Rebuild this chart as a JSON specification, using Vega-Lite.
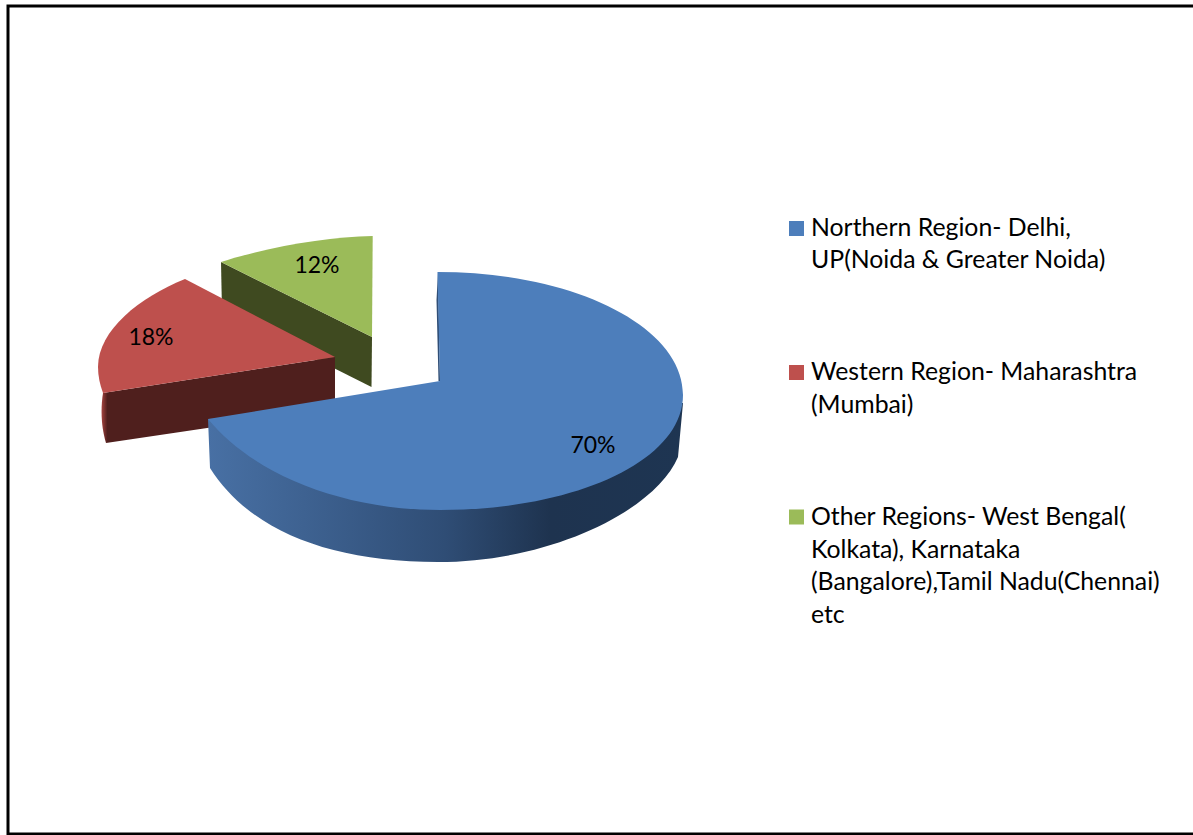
{
"$schema":"https://vega.github.io/schema/vega-lite/v6.json",
"autosize":"none",
"width":1190,"height":828,
"padding":{"left":8,"top":6,"right":-5,"bottom":1},
"background":"white",
"view":{"stroke":"black","strokeWidth":3,"fill":"white"},
"config":{"font":"Lato"},
"data":{"values":[
{"region":"Northern Region- Delhi,\nUP(Noida & Greater Noida)","share":70,"label":"70%"},
{"region":"Western Region- Maharashtra\n(Mumbai)","share":18,"label":"18%"},
{"region":"Other Regions- West Bengal(\nKolkata), Karnataka\n(Bangalore),Tamil Nadu(Chennai)\netc","share":12,"label":"12%"}
]},
"encoding":{
"x":{"field":"share","type":"quantitative","axis":null,"scale":{"domain":[12,18,70],"range":[364,327,432]}},
"y":{"field":"share","type":"quantitative","axis":null,"scale":{"domain":[12,18,70],"range":[331,351,375]}},
"size":{"value":4}
},
"layer":[
{"transform":[{"filter":"datum.share==12"}],
 "mark":{"type":"point","filled":true,"opacity":1,"strokeWidth":0,"fill":"#3f4a20","shape":"M-151,-75 L0,0 L-0.5,50 L-150,-25 Z"}},
{"transform":[{"filter":"datum.share==12"}],
 "mark":{"type":"point","filled":true,"opacity":1,"strokeWidth":0,"shape":"M0,0 L0.7,-101 C-45,-100 -105,-90 -151,-75 Z"},
 "encoding":{"color":{"field":"region","type":"nominal","sort":null,"scale":{"domain":["Northern Region- Delhi,\nUP(Noida & Greater Noida)","Western Region- Maharashtra\n(Mumbai)","Other Regions- West Bengal(\nKolkata), Karnataka\n(Bangalore),Tamil Nadu(Chennai)\netc"],"range":["#4d7ebb","#be504d","#9bbb59"]},"legend":null}}},
{"transform":[{"filter":"datum.share==18"}],
 "mark":{"type":"point","filled":true,"opacity":1,"strokeWidth":0,"shape":"M-232,36 L0,0 L0,52 L-229,86 C-233,73 -235,55 -232,36 Z","fill":{"x1":0,"y1":0,"x2":1,"y2":0,"gradient":"linear","stops":[{"offset":0,"color":"#a5433f"},{"offset":0.025,"color":"#4f1f1d"},{"offset":1,"color":"#4f1f1d"}]}}},
{"transform":[{"filter":"datum.share==18"}],
 "mark":{"type":"point","filled":true,"opacity":1,"strokeWidth":0,"shape":"M0,0 L-150,-78 C-195,-60 -237,-27 -237,10 C-237,19 -235,28 -232,36 Z"},
 "encoding":{"color":{"field":"region","type":"nominal","legend":null}}},
{"transform":[{"filter":"datum.share==70"}],
 "mark":{"type":"point","filled":true,"opacity":1,"strokeWidth":0,"shape":"M-232,38 L-230,87 C-190,150 -110,181 -2,181 C110,181 215,130 238,76 L243,22 Z M-2,-109 L-3.5,-81 L-1.5,0 L0,0 Z","fill":{"x1":0,"y1":0,"x2":1,"y2":0,"gradient":"linear","stops":[{"offset":0,"color":"#4870a4"},{"offset":0.5,"color":"#2f4d75"},{"offset":0.72,"color":"#1e334f"},{"offset":1,"color":"#1e3552"}]}}},
{"transform":[{"filter":"datum.share==70"}],
 "mark":{"type":"point","filled":true,"opacity":1,"strokeWidth":0,"shape":"M0,0 L-2.5,-109 C133,-109 243,-55 243,14 C243,80 135,129 0,129 C-95,129 -185,95 -232,38 Z"},
 "encoding":{"color":{"field":"region","type":"nominal","legend":null}}},
{"mark":{"type":"text","font":"Lato","fontSize":23,"color":"#000000","baseline":"middle","align":"center"},
 "encoding":{
  "x":{"field":"share","type":"quantitative","axis":null,"scale":{"domain":[12,18,70],"range":[309,143,585]}},
  "y":{"field":"share","type":"quantitative","axis":null,"scale":{"domain":[12,18,70],"range":[260,332,440]}},
  "text":{"field":"label","type":"nominal"},
  "size":{"value":23}
 }},
{"mark":{"type":"point","filled":true,"opacity":1,"strokeWidth":0,"shape":"square"},
 "encoding":{
  "x":{"field":"share","type":"quantitative","axis":null,"scale":{"domain":[12,70],"range":[788.5,788.5]}},
  "y":{"field":"share","type":"quantitative","axis":null,"scale":{"domain":[12,18,70],"range":[511,366.5,222.5]}},
  "color":{"field":"region","type":"nominal","legend":null},
  "size":{"value":225}
 }},
{"mark":{"type":"text","font":"Lato","fontSize":24.8,"color":"#000000","baseline":"alphabetic","align":"left","lineBreak":"\n","lineHeight":32.7},
 "encoding":{
  "x":{"field":"share","type":"quantitative","axis":null,"scale":{"domain":[12,70],"range":[803,803]}},
  "y":{"field":"share","type":"quantitative","axis":null,"scale":{"domain":[12,18,70],"range":[519,374,229.5]}},
  "text":{"field":"region","type":"nominal"},
  "size":{"value":24.8}
 }}
],
"resolve":{"scale":{"x":"independent","y":"independent"}}
}
